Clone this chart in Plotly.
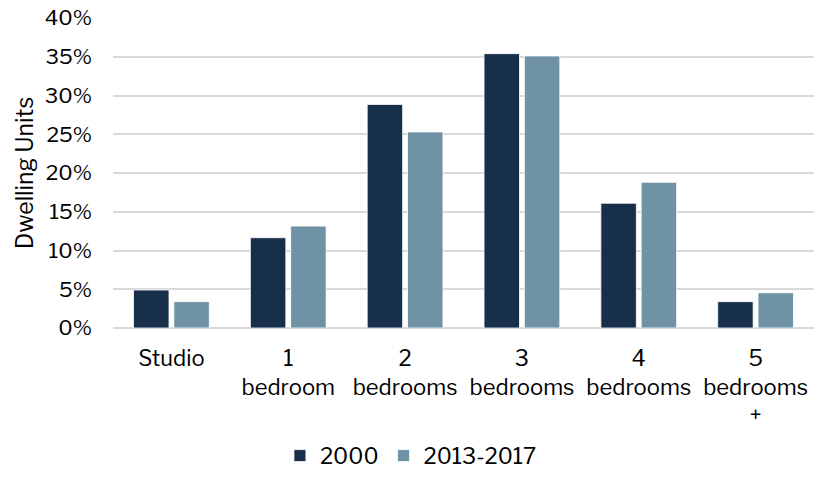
import plotly.graph_objects as go

categories = ["Studio", "1<br>bedroom", "2<br>bedrooms", "3<br>bedrooms", "4<br>bedrooms", "5<br>bedrooms<br>+"]
series_2000 = [4.9, 11.65, 28.85, 35.4, 16.1, 3.4]
series_2013 = [3.4, 13.15, 25.3, 35.1, 18.8, 4.55]
y_ticks = [0, 5, 10, 15, 20, 25, 30, 35, 40]
y_tick_labels = ["0%", "5%", "10%", "15%", "20%", "25%", "30%", "35%", "40%"]

FONT = "Libre Franklin, Liberation Sans, Arial"

fig = go.Figure()
fig.add_trace(go.Bar(x=categories, y=series_2000, name="2000",
                     marker=dict(color="#172F49", line=dict(color="#FFFFFF", width=0.8))))
fig.add_trace(go.Bar(x=categories, y=series_2013, name="2013-2017",
                     marker=dict(color="#6F93A4", line=dict(color="#FFFFFF", width=0.8))))

fig.update_layout(
    width=816, height=479,
    margin=dict(l=113, r=2, t=18, b=149),
    paper_bgcolor="white", plot_bgcolor="white",
    barmode="group", bargap=0.31, bargroupgap=0.12,
    font=dict(family=FONT, size=22, color="#000000"),
    showlegend=True,
    legend=dict(orientation="h", x=0.425, xanchor="center", y=-0.48, yanchor="bottom",
                font=dict(family=FONT, size=22), itemwidth=30, traceorder="normal"),
    xaxis=dict(showgrid=False, showline=False, ticks="", tickfont=dict(family=FONT, size=22),
               tickangle=0, ticklabelstandoff=15),
    yaxis=dict(range=[0, 40], tickvals=y_ticks, ticktext=y_tick_labels,
               showgrid=True, gridcolor="#D9D9D9", gridwidth=1.5,
               zeroline=True, zerolinecolor="#D9D9D9", zerolinewidth=1.5,
               ticks="", ticklabelstandoff=20, tickfont=dict(family=FONT, size=21),
               title=dict(text="Dwelling Units", font=dict(family=FONT, size=23), standoff=4)),
)

fig.write_html("out.html", config={"displayModeBar": False},
               post_script="document.body.style.margin='0';document.body.style.overflow='hidden';")
